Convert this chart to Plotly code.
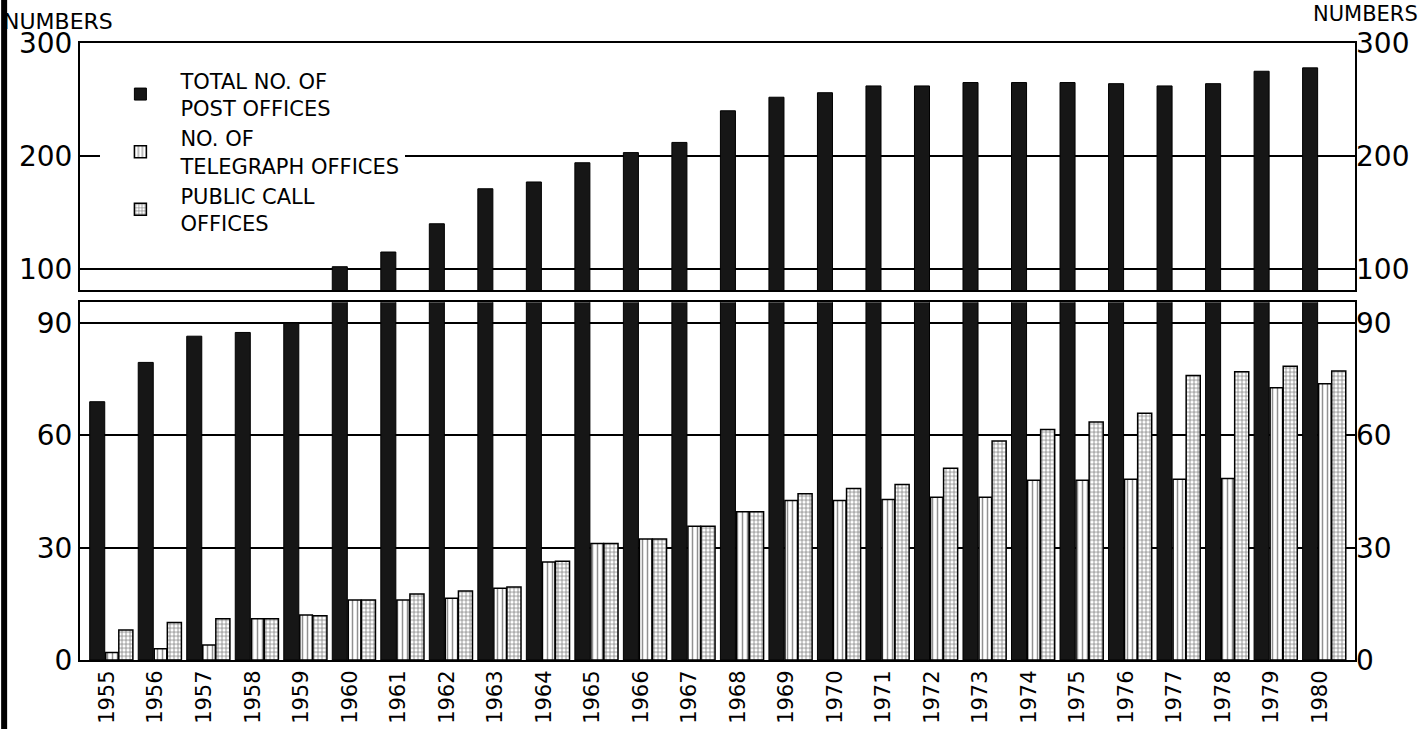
import plotly.graph_objects as go

years = list(range(1955, 1981))
post_offices = [69, 79.5, 86.5, 87.5, 90, 102, 115, 140, 171, 177, 194, 203, 212, 240,
                252, 256, 262, 262, 265, 265, 265, 264, 262, 264, 275, 278]
telegraph_offices = [2, 3, 4, 11, 12, 16, 16, 16.5, 19.2, 26.2, 31.1, 32.3, 35.7, 39.6,
                     42.6, 42.6, 42.9, 43.5, 43.5, 48, 48, 48.3, 48.3, 48.5, 72.7, 73.8]
public_call_offices = [8, 10, 11, 11, 11.8, 16, 17.6, 18.4, 19.5, 26.4, 31.1, 32.3, 35.7, 39.6,
                       44.4, 45.8, 46.9, 51.2, 58.5, 61.6, 63.6, 65.9, 76, 77, 78.5, 77.2]
names = ["TOTAL NO. OF<br>POST OFFICES", "NO. OF<br>TELEGRAPH OFFICES", "PUBLIC CALL<br>OFFICES"]

LOWER_TOP = 95.6          # top of the lower (0-90) panel
UPPER_RANGE = [81.4, 300]  # upper panel (broken axis)
# only values above the break are shown in the upper panel
post_upper = [v if v > LOWER_TOP else None for v in post_offices]

FONT = "DejaVu Sans"
fig = go.Figure()

# lower panel
fig.add_trace(go.Bar(x=years, y=post_offices, name=names[0], xaxis="x", yaxis="y",
                     offset=-0.36, width=0.31,
                     marker=dict(color="#161616", line=dict(color="black", width=1))))
fig.add_trace(go.Bar(x=years, y=telegraph_offices, name=names[1], xaxis="x", yaxis="y",
                     offset=-0.03, width=0.26,
                     marker=dict(color="white", line=dict(color="black", width=1.5),
                                 pattern=dict(shape="|", fgcolor="#222", bgcolor="white",
                                              size=5, solidity=0.3))))
fig.add_trace(go.Bar(x=years, y=public_call_offices, name=names[2], xaxis="x", yaxis="y",
                     offset=0.24, width=0.29,
                     marker=dict(color="white", line=dict(color="black", width=1.5),
                                 pattern=dict(shape="+", fgcolor="black", bgcolor="white",
                                              size=4, solidity=0.35))))
# upper panel (broken axis)
fig.add_trace(go.Bar(x=years, y=post_upper, name=names[0], xaxis="x2", yaxis="y2",
                     offset=-0.36, width=0.31, showlegend=False,
                     marker=dict(color="#161616", line=dict(color="black", width=1))))
# invisible traces so the right-hand axes get drawn
fig.add_trace(go.Scatter(x=years, y=telegraph_offices, xaxis="x", yaxis="y3", mode="lines",
                         line=dict(width=0, color="rgba(0,0,0,0)"), showlegend=False,
                         hoverinfo="skip"))
fig.add_trace(go.Scatter(x=years, y=post_upper, xaxis="x2", yaxis="y4", mode="lines",
                         line=dict(width=0, color="rgba(0,0,0,0)"), showlegend=False,
                         hoverinfo="skip"))

xr = [1954.44, 1980.72]
axis_common = dict(showline=True, linecolor="black", linewidth=2, mirror=True,
                   zeroline=False, automargin=False)
tickfont = dict(family=FONT, size=28, color="black")

fig.update_layout(
    width=1424, height=729,
    margin=dict(l=80, r=69, t=43, b=69),
    paper_bgcolor="white", plot_bgcolor="white",
    barmode="overlay",
    showlegend=True,
    legend=dict(x=0.016, y=0.972, xanchor="left", yanchor="top",
                font=dict(family=FONT, size=21, color="black"),
                bgcolor="white", tracegroupgap=0, itemwidth=70),
    xaxis=dict(domain=[0, 1], range=xr, anchor="y", tickvals=years,
               ticktext=[str(y) for y in years], tickangle=-90,
               tickfont=dict(family=FONT, size=21, color="black"),
               showgrid=False, ticks="", **axis_common),
    xaxis2=dict(domain=[0, 1], range=xr, anchor="y2", matches="x",
                showticklabels=False, showgrid=False, ticks="", **axis_common),
    yaxis=dict(domain=[0, 0.580], range=[0, LOWER_TOP], anchor="x",
               tickvals=[0, 30, 60, 90], ticktext=["0", "30", "60", "90"],
               tickfont=tickfont, showgrid=True, gridcolor="black", gridwidth=2,
               ticks="", **axis_common),
    yaxis2=dict(domain=[0.5997, 1], range=UPPER_RANGE, anchor="x2",
                tickvals=[100, 200, 300], ticktext=["100", "200", "300"],
                tickfont=tickfont, showgrid=True, gridcolor="black", gridwidth=2,
                ticks="", **axis_common),
    yaxis3=dict(overlaying="y", side="right", range=[0, LOWER_TOP], anchor="x",
                tickvals=[0, 30, 60, 90], ticktext=["0", "30", "60", "90"],
                tickfont=tickfont, showgrid=False, zeroline=False, showline=False,
                automargin=False),
    yaxis4=dict(overlaying="y2", side="right", range=UPPER_RANGE, anchor="x2",
                tickvals=[100, 200, 300], ticktext=["100", "200", "300"],
                tickfont=tickfont, showgrid=False, zeroline=False, showline=False,
                automargin=False),
    annotations=[
        dict(text="NUMBERS", xref="paper", yref="paper", x=-0.062, y=1.012,
             xanchor="left", yanchor="bottom", showarrow=False,
             font=dict(family=FONT, size=22, color="black")),
        dict(text="NUMBERS", xref="paper", yref="paper", x=1.051, y=1.025,
             xanchor="right", yanchor="bottom", showarrow=False,
             font=dict(family=FONT, size=21, color="black")),
    ],
    shapes=[dict(type="line", xref="paper", yref="paper", x0=-0.0595, x1=-0.0595,
                 y0=-0.12, y1=1.07, line=dict(color="black", width=6))],
)

fig.write_html("out.html", config={"displayModeBar": False},
               post_script="document.body.style.margin='0';")
